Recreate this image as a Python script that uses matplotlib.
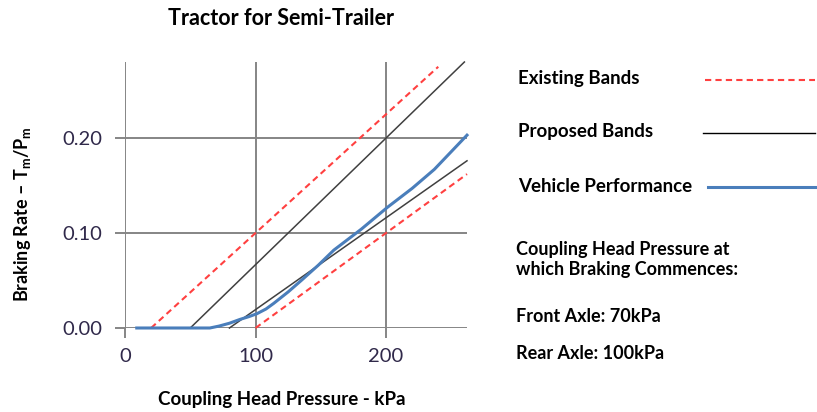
import matplotlib
matplotlib.use("Agg")
import matplotlib.pyplot as plt
from matplotlib.lines import Line2D

plt.rcParams['font.family'] = ['Lato', 'DejaVu Sans']
plt.rcParams['mathtext.fontset'] = 'custom'
plt.rcParams['mathtext.rm'] = 'Lato'
plt.rcParams['mathtext.bf'] = 'Lato:bold'

# Existing bands (red dashed)
existing_upper_x = [20, 240]
existing_upper_y = [0.0, 0.275]
existing_lower_x = [100, 262]
existing_lower_y = [0.0, 0.162]

# Proposed bands (black)
proposed_upper_x = [50, 260]
proposed_upper_y = [0.0, 0.28]
proposed_lower_x = [80, 262]
proposed_lower_y = [0.0, 0.176]

# Vehicle performance (blue)
vehicle_x = [9, 65, 72, 80, 88, 95, 101, 108, 114, 125, 135, 148, 160, 181, 201, 220, 237, 262]
vehicle_y = [0.0, 0.0, 0.002, 0.005, 0.009, 0.012, 0.015, 0.020, 0.026, 0.038, 0.050,
             0.066, 0.082, 0.104, 0.127, 0.147, 0.167, 0.203]

x_ticks = [0, 100, 200]
y_ticks = [0.0, 0.10, 0.20]

grid_col = '#858585'
red = '#ff4040'
black = '#404040'
blue = '#4a7ebb'

fig = plt.figure(figsize=(8.17, 4.12), dpi=100)
ax = fig.add_axes([0.153, 0.2039, 0.4186, 0.6456])

ax.plot(existing_upper_x, existing_upper_y, color=red, lw=1.5, ls=(0, (3, 2)), clip_on=False)
ax.plot(existing_lower_x, existing_lower_y, color=red, lw=1.5, ls=(0, (3, 2)), clip_on=False)
ax.plot(proposed_upper_x, proposed_upper_y, color=black, lw=1.1, clip_on=False)
ax.plot(proposed_lower_x, proposed_lower_y, color=black, lw=1.1, clip_on=False)
ax.plot(vehicle_x, vehicle_y, color=blue, lw=2.2, clip_on=False, zorder=3,
        solid_joinstyle='round')

ax.set_xlim(0, 262)
ax.set_ylim(0, 0.28)
ax.set_xticks(x_ticks)
ax.set_yticks(y_ticks)
ax.set_yticklabels([f"{v:.2f}" for v in y_ticks])
ax.grid(True, color=grid_col, lw=1.4)
ax.set_axisbelow(True)
for s in ax.spines.values():
    s.set_visible(False)
ax.tick_params(direction='out', length=7, width=1.4, color=grid_col,
               labelsize=14.5, labelcolor='#30294a')
ax.tick_params(axis='x', pad=7.5)
ax.tick_params(axis='y', pad=9.5)

fig.text(0.344, 0.955, "Tractor for Semi-Trailer", ha='center', va='center',
         fontsize=15.5, fontweight='bold')
fig.text(0.345, 0.03, "Coupling Head Pressure - kPa", ha='center', va='center',
         fontsize=13.5, fontweight='bold')
fig.text(0.028, 0.48, r"Braking Rate – T$_\mathbf{m}$/P$_\mathbf{m}$", ha='center', va='center',
         rotation=90, fontsize=13, fontweight='bold')

# legend on the right
legend_items = [("Existing Bands", red, (0, (3, 2)), 1.5, 0.81, 0.863),
                ("Proposed Bands", 'black', '-', 1.0, 0.68, 0.861),
                ("Vehicle Performance", blue, '-', 2.2, 0.548, 0.866)]
for label, col, ls, lw, yy, x0 in legend_items:
    fig.text(0.634, yy, label, ha='left', va='center', fontsize=13.5, fontweight='bold')
    fig.add_artist(Line2D([x0, 0.998], [yy - 0.003, yy - 0.003], color=col, ls=ls, lw=lw,
                          transform=fig.transFigure))

fig.text(0.632, 0.371, "Coupling Head Pressure at\nwhich Braking Commences:", ha='left',
         va='center', fontsize=13, fontweight='bold', linespacing=1.2)
fig.text(0.632, 0.231, "Front Axle: 70kPa", ha='left', va='center', fontsize=13, fontweight='bold')
fig.text(0.632, 0.143, "Rear Axle: 100kPa", ha='left', va='center', fontsize=13, fontweight='bold')

fig.savefig("out.png", dpi=100)
